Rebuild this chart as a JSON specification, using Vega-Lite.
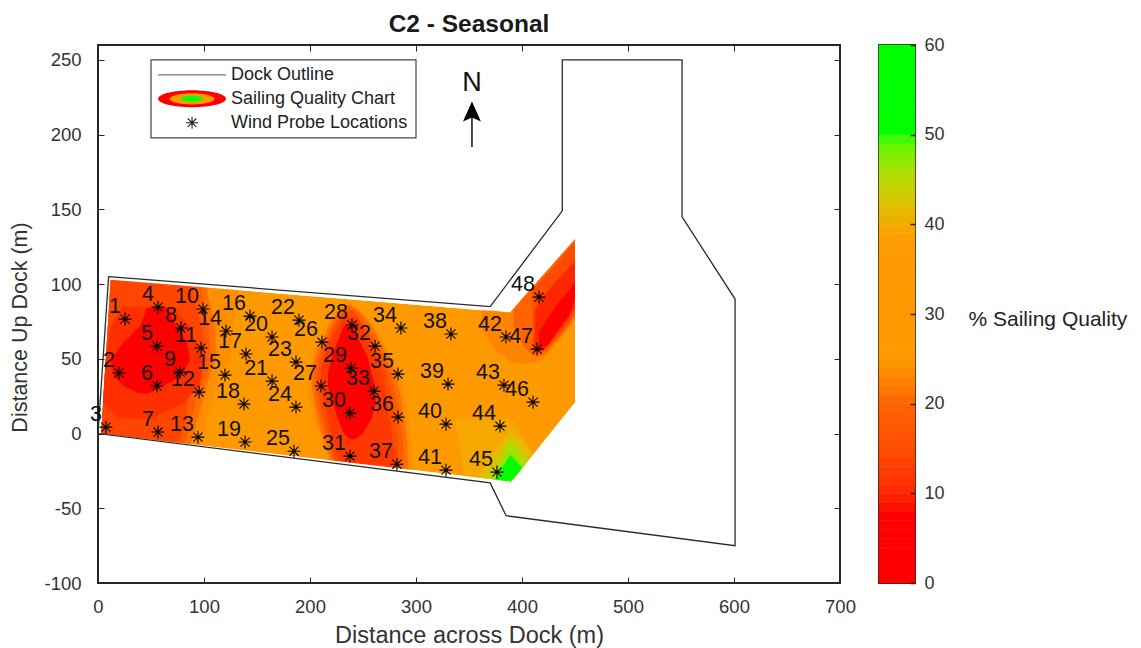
{
"$schema":"https://vega.github.io/schema/vega-lite/v6.json",
"padding":{"left":8,"top":11,"right":0,"bottom":0},
"background":"white",
"spacing":20,
"config":{"font":"Liberation Sans","view":{"stroke":"#262626","strokeWidth":2}},
"datasets":{
"base":[{"zone":"base","level":30,"x":3,"y0":-0.2,"y1":0},{"zone":"base","level":30,"x":12,"y0":-1,"y1":103},{"zone":"base","level":30,"x":389,"y0":-32,"y1":81},{"zone":"base","level":30,"x":390,"y0":-32,"y1":82},{"zone":"base","level":30,"x":450,"y0":21,"y1":130}],
"bands":[
{"zone":"L24","level":24,"y":103,"x0":12,"x1":133},{"zone":"L24","level":24,"y":94,"x0":11.2,"x1":131},{"zone":"L24","level":24,"y":72,"x0":9.3,"x1":128},{"zone":"L24","level":24,"y":49,"x0":7.3,"x1":124},{"zone":"L24","level":24,"y":41,"x0":6.6,"x1":115},{"zone":"L24","level":24,"y":27,"x0":5.4,"x1":109},{"zone":"L24","level":24,"y":4,"x0":3.3,"x1":101},{"zone":"L24","level":24,"y":-4,"x0":3,"x1":99},{"zone":"L24","level":24,"y":-9,"x0":3,"x1":97},
{"zone":"L21","level":21,"y":103,"x0":12,"x1":105},{"zone":"L21","level":21,"y":94,"x0":11.2,"x1":103},{"zone":"L21","level":21,"y":72,"x0":9.3,"x1":111},{"zone":"L21","level":21,"y":49,"x0":7.3,"x1":111},{"zone":"L21","level":21,"y":41,"x0":6.6,"x1":106},{"zone":"L21","level":21,"y":27,"x0":5.4,"x1":101},{"zone":"L21","level":21,"y":4,"x0":3.3,"x1":92},{"zone":"L21","level":21,"y":-4,"x0":3,"x1":89},{"zone":"L21","level":21,"y":-9,"x0":3,"x1":86},
{"zone":"L18","level":18,"y":103,"x0":12,"x1":100},{"zone":"L18","level":18,"y":94,"x0":11.2,"x1":98},{"zone":"L18","level":18,"y":72,"x0":9.3,"x1":104},{"zone":"L18","level":18,"y":49,"x0":7.3,"x1":107},{"zone":"L18","level":18,"y":41,"x0":6.6,"x1":103},{"zone":"L18","level":18,"y":27,"x0":5.4,"x1":94},{"zone":"L18","level":18,"y":4,"x0":3.3,"x1":87},{"zone":"L18","level":18,"y":-4,"x0":3,"x1":83},{"zone":"L18","level":18,"y":-9,"x0":3,"x1":80},
{"zone":"L14","level":14,"y":103,"x0":12,"x1":90},{"zone":"L14","level":14,"y":94,"x0":11.2,"x1":90},{"zone":"L14","level":14,"y":72,"x0":9.3,"x1":98},{"zone":"L14","level":14,"y":49,"x0":7.3,"x1":102},{"zone":"L14","level":14,"y":41,"x0":6.6,"x1":97},{"zone":"L14","level":14,"y":27,"x0":5.4,"x1":86},{"zone":"L14","level":14,"y":4,"x0":3.3,"x1":81},{"zone":"L14","level":14,"y":-4,"x0":3,"x1":77},{"zone":"L14","level":14,"y":-9,"x0":3,"x1":74},
{"zone":"L11","level":11,"y":85,"x0":24,"x1":71},{"zone":"L11","level":11,"y":72,"x0":12,"x1":86},{"zone":"L11","level":11,"y":49,"x0":7.3,"x1":99},{"zone":"L11","level":11,"y":32,"x0":5.5,"x1":96},{"zone":"L11","level":11,"y":20,"x0":4.5,"x1":80},{"zone":"L11","level":11,"y":10,"x0":20,"x1":50},
{"zone":"L6","level":6,"y":84,"x0":46,"x1":65},{"zone":"L6","level":6,"y":72,"x0":40,"x1":74},{"zone":"L6","level":6,"y":61,"x0":24,"x1":84},{"zone":"L6","level":6,"y":49,"x0":12,"x1":87},{"zone":"L6","level":6,"y":38,"x0":15,"x1":78},{"zone":"L6","level":6,"y":32,"x0":24,"x1":62},{"zone":"L6","level":6,"y":27,"x0":38,"x1":48},
{"zone":"M24","level":24,"y":88,"x0":233,"x1":238},{"zone":"M24","level":24,"y":80,"x0":222,"x1":252},{"zone":"M24","level":24,"y":70,"x0":214,"x1":263},{"zone":"M24","level":24,"y":60,"x0":207,"x1":270},{"zone":"M24","level":24,"y":50,"x0":201,"x1":279},{"zone":"M24","level":24,"y":40,"x0":198,"x1":284},{"zone":"M24","level":24,"y":30,"x0":198,"x1":288},{"zone":"M24","level":24,"y":20,"x0":200,"x1":291},{"zone":"M24","level":24,"y":10,"x0":203,"x1":293},{"zone":"M24","level":24,"y":0,"x0":208,"x1":295},{"zone":"M24","level":24,"y":-10,"x0":214,"x1":296},{"zone":"M24","level":24,"y":-26,"x0":220,"x1":297},
{"zone":"M21","level":21,"y":86,"x0":234,"x1":238},{"zone":"M21","level":21,"y":80,"x0":225,"x1":250},{"zone":"M21","level":21,"y":70,"x0":217,"x1":260},{"zone":"M21","level":21,"y":60,"x0":210,"x1":267},{"zone":"M21","level":21,"y":50,"x0":204,"x1":275},{"zone":"M21","level":21,"y":40,"x0":201,"x1":280},{"zone":"M21","level":21,"y":30,"x0":202,"x1":284},{"zone":"M21","level":21,"y":20,"x0":204,"x1":287},{"zone":"M21","level":21,"y":10,"x0":207,"x1":289},{"zone":"M21","level":21,"y":0,"x0":211,"x1":291},{"zone":"M21","level":21,"y":-10,"x0":216,"x1":292},{"zone":"M21","level":21,"y":-26,"x0":222,"x1":293},
{"zone":"M18","level":18,"y":85,"x0":234,"x1":238},{"zone":"M18","level":18,"y":80,"x0":227,"x1":247},{"zone":"M18","level":18,"y":70,"x0":220,"x1":256},{"zone":"M18","level":18,"y":60,"x0":213,"x1":263},{"zone":"M18","level":18,"y":50,"x0":207,"x1":271},{"zone":"M18","level":18,"y":40,"x0":204,"x1":276},{"zone":"M18","level":18,"y":30,"x0":205,"x1":280},{"zone":"M18","level":18,"y":20,"x0":207,"x1":283},{"zone":"M18","level":18,"y":10,"x0":210,"x1":285},{"zone":"M18","level":18,"y":0,"x0":214,"x1":287},{"zone":"M18","level":18,"y":-10,"x0":219,"x1":288},{"zone":"M18","level":18,"y":-26,"x0":225,"x1":289},
{"zone":"M15","level":15,"y":82,"x0":232,"x1":240},{"zone":"M15","level":15,"y":70,"x0":222,"x1":253},{"zone":"M15","level":15,"y":60,"x0":215,"x1":260},{"zone":"M15","level":15,"y":50,"x0":210,"x1":267},{"zone":"M15","level":15,"y":40,"x0":207,"x1":272},{"zone":"M15","level":15,"y":30,"x0":208,"x1":276},{"zone":"M15","level":15,"y":20,"x0":210,"x1":278},{"zone":"M15","level":15,"y":10,"x0":213,"x1":280},{"zone":"M15","level":15,"y":0,"x0":217,"x1":282},{"zone":"M15","level":15,"y":-10,"x0":221,"x1":283},{"zone":"M15","level":15,"y":-26,"x0":227,"x1":284},
{"zone":"M12","level":12,"y":78,"x0":232,"x1":245},{"zone":"M12","level":12,"y":70,"x0":225,"x1":250},{"zone":"M12","level":12,"y":60,"x0":218,"x1":256},{"zone":"M12","level":12,"y":50,"x0":213,"x1":263},{"zone":"M12","level":12,"y":40,"x0":210,"x1":268},{"zone":"M12","level":12,"y":30,"x0":211,"x1":271},{"zone":"M12","level":12,"y":20,"x0":214,"x1":273},{"zone":"M12","level":12,"y":10,"x0":217,"x1":275},{"zone":"M12","level":12,"y":0,"x0":220,"x1":277},{"zone":"M12","level":12,"y":-10,"x0":224,"x1":279},{"zone":"M12","level":12,"y":-26,"x0":230,"x1":280},
{"zone":"M6","level":6,"y":72,"x0":232,"x1":240},{"zone":"M6","level":6,"y":60,"x0":225,"x1":248},{"zone":"M6","level":6,"y":50,"x0":220,"x1":255},{"zone":"M6","level":6,"y":40,"x0":217,"x1":258},{"zone":"M6","level":6,"y":30,"x0":217,"x1":262},{"zone":"M6","level":6,"y":20,"x0":222,"x1":262},{"zone":"M6","level":6,"y":10,"x0":226,"x1":258},{"zone":"M6","level":6,"y":0,"x0":232,"x1":250},{"zone":"M6","level":6,"y":-4,"x0":238,"x1":242}
],
"patches":[
{"zone":"W23","level":23,"x":362,"y0":70,"y1":82.5},{"zone":"W23","level":23,"x":375,"y0":56,"y1":82},{"zone":"W23","level":23,"x":389,"y0":48,"y1":81},{"zone":"W23","level":23,"x":400,"y0":46,"y1":90},{"zone":"W23","level":23,"x":410,"y0":47,"y1":98},{"zone":"W23","level":23,"x":420,"y0":50,"y1":106},{"zone":"W23","level":23,"x":430,"y0":58,"y1":114},{"zone":"W23","level":23,"x":440,"y0":67,"y1":122},{"zone":"W23","level":23,"x":450,"y0":76,"y1":130},
{"zone":"W20","level":20,"x":392,"y0":72,"y1":83},{"zone":"W20","level":20,"x":400,"y0":60,"y1":90},{"zone":"W20","level":20,"x":410,"y0":52,"y1":98},{"zone":"W20","level":20,"x":420,"y0":52,"y1":106},{"zone":"W20","level":20,"x":430,"y0":60,"y1":114},{"zone":"W20","level":20,"x":440,"y0":68,"y1":122},{"zone":"W20","level":20,"x":450,"y0":78,"y1":130},
{"zone":"W15","level":15,"x":410,"y0":55,"y1":96},{"zone":"W15","level":15,"x":420,"y0":55,"y1":104},{"zone":"W15","level":15,"x":430,"y0":62,"y1":112},{"zone":"W15","level":15,"x":440,"y0":70,"y1":120},{"zone":"W15","level":15,"x":450,"y0":80,"y1":128},
{"zone":"W10","level":10,"x":412,"y0":55,"y1":82},{"zone":"W10","level":10,"x":420,"y0":55,"y1":92},{"zone":"W10","level":10,"x":430,"y0":64,"y1":100},{"zone":"W10","level":10,"x":440,"y0":73,"y1":108},{"zone":"W10","level":10,"x":450,"y0":84,"y1":115},
{"zone":"W5","level":5,"x":416,"y0":55,"y1":68},{"zone":"W5","level":5,"x":425,"y0":60,"y1":78},{"zone":"W5","level":5,"x":435,"y0":70,"y1":88},{"zone":"W5","level":5,"x":445,"y0":80,"y1":96},{"zone":"W5","level":5,"x":450,"y0":90,"y1":102},
{"zone":"G39","level":39.5,"x":337,"y0":10,"y1":10},{"zone":"G39","level":39.5,"x":345,"y0":-28.3,"y1":10},{"zone":"G39","level":39.5,"x":390,"y0":-32,"y1":10},{"zone":"G39","level":39.5,"x":400,"y0":-23,"y1":-1},{"zone":"G39","level":39.5,"x":409,"y0":-15.2,"y1":-11},
{"zone":"G42","level":42,"x":358,"y0":-29.4,"y1":-29},{"zone":"G42","level":42,"x":372,"y0":-30.5,"y1":-15},{"zone":"G42","level":42,"x":389,"y0":-32,"y1":2},{"zone":"G42","level":42,"x":398,"y0":-25,"y1":-3},{"zone":"G42","level":42,"x":408,"y0":-16,"y1":-12},
{"zone":"G46","level":46,"x":368,"y0":-30.2,"y1":-30},{"zone":"G46","level":46,"x":378,"y0":-31,"y1":-18},{"zone":"G46","level":46,"x":389,"y0":-32,"y1":-5},{"zone":"G46","level":46,"x":396,"y0":-26.8,"y1":-10},{"zone":"G46","level":46,"x":404,"y0":-19.8,"y1":-18},
{"zone":"G52","level":52,"x":375,"y0":-30.8,"y1":-30},{"zone":"G52","level":52,"x":382,"y0":-31.4,"y1":-22},{"zone":"G52","level":52,"x":389,"y0":-32,"y1":-14},{"zone":"G52","level":52,"x":394,"y0":-28.5,"y1":-18},{"zone":"G52","level":52,"x":400,"y0":-23,"y1":-22.5}
],
"masks":[
{"zone":"top","x":12,"y0":103,"y1":115},{"zone":"top","x":389,"y0":81,"y1":93},
{"zone":"bottom","x":2.5,"y0":-14.2,"y1":-0.2},{"zone":"bottom","x":390,"y0":-46,"y1":-32}
],
"outline":[{"o":1,"x":10,"y":105},{"o":2,"x":370,"y":85},{"o":3,"x":438,"y":149},{"o":4,"x":438,"y":250},{"o":5,"x":551,"y":250},{"o":6,"x":551,"y":145},{"o":7,"x":601,"y":90},{"o":8,"x":601,"y":-75},{"o":9,"x":385,"y":-55},{"o":10,"x":370,"y":-33},{"o":11,"x":0,"y":0},{"o":12,"x":10,"y":105}],
"probes":[
{"id":"1","x":25.5,"y":76.6},{"id":"2","x":19.8,"y":40.5},{"id":"3","x":7.5,"y":4.3},{"id":"4","x":56.6,"y":84.6},{"id":"5","x":55.7,"y":58.5},{"id":"6","x":55.7,"y":31.8},{"id":"7","x":56.6,"y":1},{"id":"8","x":78.3,"y":70.6},{"id":"9","x":77.4,"y":41.1},{"id":"10","x":99,"y":83.3},{"id":"11","x":97.2,"y":57.2},{"id":"12","x":95.3,"y":27.7},{"id":"13","x":94.3,"y":-2.4},{"id":"14","x":120.8,"y":68.6},{"id":"15","x":119.8,"y":39.1},{"id":"16","x":143.4,"y":78.6},{"id":"17","x":139.6,"y":53.2},{"id":"18","x":137.7,"y":19.7},{"id":"19","x":138.7,"y":-5.7},{"id":"20","x":164.2,"y":64.6},{"id":"21","x":164.2,"y":35.1},{"id":"22","x":189.6,"y":75.9},{"id":"23","x":186.8,"y":47.8},{"id":"24","x":186.8,"y":17.7},{"id":"25","x":184.9,"y":-11.8},{"id":"26","x":211.3,"y":61.2},{"id":"27","x":210.4,"y":31.8},{"id":"28","x":239.6,"y":72.6},{"id":"29","x":238.7,"y":43.8},{"id":"30","x":237.7,"y":13.7},{"id":"31","x":237.7,"y":-15.1},{"id":"32","x":261.3,"y":58.5},{"id":"33","x":260.4,"y":28.4},{"id":"34","x":285.8,"y":70.6},{"id":"35","x":283,"y":39.8},{"id":"36","x":283,"y":11},{"id":"37","x":282,"y":-20.5},{"id":"38","x":333,"y":66.6},{"id":"39","x":330.2,"y":33.1},{"id":"40","x":328.3,"y":6.3},{"id":"41","x":328.3,"y":-24.5},{"id":"42","x":384.9,"y":64.6},{"id":"43","x":383,"y":32.4},{"id":"44","x":379.2,"y":5},{"id":"45","x":376.4,"y":-25.8},{"id":"46","x":410.4,"y":21},{"id":"47","x":414.2,"y":56.5},{"id":"48","x":416,"y":91.3}
],
"legendBox":[{"x":50,"x2":300,"y":197.8,"y2":250}],
"legendLine":[{"x":56.6,"y":240},{"x":120.8,"y":240}],
"legendText":[{"x":125.5,"y":240,"t":"Dock Outline"},{"x":125.5,"y":224,"t":"Sailing Quality Chart"},{"x":125.5,"y":208,"t":"Wind Probe Locations"}],
"legendOval":[{"x":88.7,"y":224}],
"legendStar":[{"x":88.7,"y":208}],
"north":[{"x":352.8,"y":234.6,"t":"N"}],
"arrowShaft":[{"x":352.8,"y":191.7},{"x":352.8,"y":215}],
"arrowHead":[{"x":352.8,"y":215.5}],
"bar":[{"lo":0,"hi":1,"v":0.5},{"lo":1,"hi":2,"v":1.5},{"lo":2,"hi":3,"v":2.5},{"lo":3,"hi":4,"v":3.5},{"lo":4,"hi":5,"v":4.5},{"lo":5,"hi":6,"v":5.5},{"lo":6,"hi":7,"v":6.5},{"lo":7,"hi":8,"v":7.5},{"lo":8,"hi":9,"v":8.5},{"lo":9,"hi":10,"v":9.5},{"lo":10,"hi":11,"v":10.5},{"lo":11,"hi":12,"v":11.5},{"lo":12,"hi":13,"v":12.5},{"lo":13,"hi":14,"v":13.5},{"lo":14,"hi":15,"v":14.5},{"lo":15,"hi":16,"v":15.5},{"lo":16,"hi":17,"v":16.5},{"lo":17,"hi":18,"v":17.5},{"lo":18,"hi":19,"v":18.5},{"lo":19,"hi":20,"v":19.5},{"lo":20,"hi":21,"v":20.5},{"lo":21,"hi":22,"v":21.5},{"lo":22,"hi":23,"v":22.5},{"lo":23,"hi":24,"v":23.5},{"lo":24,"hi":25,"v":24.5},{"lo":25,"hi":26,"v":25.5},{"lo":26,"hi":27,"v":26.5},{"lo":27,"hi":28,"v":27.5},{"lo":28,"hi":29,"v":28.5},{"lo":29,"hi":30,"v":29.5},{"lo":30,"hi":31,"v":30.5},{"lo":31,"hi":32,"v":31.5},{"lo":32,"hi":33,"v":32.5},{"lo":33,"hi":34,"v":33.5},{"lo":34,"hi":35,"v":34.5},{"lo":35,"hi":36,"v":35.5},{"lo":36,"hi":37,"v":36.5},{"lo":37,"hi":38,"v":37.5},{"lo":38,"hi":39,"v":38.5},{"lo":39,"hi":40,"v":39.5},{"lo":40,"hi":41,"v":40.5},{"lo":41,"hi":42,"v":41.5},{"lo":42,"hi":43,"v":42.5},{"lo":43,"hi":44,"v":43.5},{"lo":44,"hi":45,"v":44.5},{"lo":45,"hi":46,"v":45.5},{"lo":46,"hi":47,"v":46.5},{"lo":47,"hi":48,"v":47.5},{"lo":48,"hi":49,"v":48.5},{"lo":49,"hi":50,"v":49.5},{"lo":50,"hi":51,"v":50.5},{"lo":51,"hi":52,"v":51.5},{"lo":52,"hi":53,"v":52.5},{"lo":53,"hi":54,"v":53.5},{"lo":54,"hi":55,"v":54.5},{"lo":55,"hi":56,"v":55.5},{"lo":56,"hi":57,"v":56.5},{"lo":57,"hi":58,"v":57.5},{"lo":58,"hi":59,"v":58.5},{"lo":59,"hi":60,"v":59.5}]
},
"hconcat":[
{
"width":742,"height":538,
"title":{"text":"C2 - Seasonal","fontSize":24.5,"fontWeight":"bold","color":"#1a1a1a","offset":7,"font":"Liberation Sans"},
"resolve":{"axis":{"x":"independent","y":"independent"}},
"layer":[
{"data":{"name":"base"},"mark":{"type":"area"},
"encoding":{
"x":{"field":"x","type":"quantitative","scale":{"domain":[0,700],"nice":false},"axis":{"values":[0,100,200,300,400,500,600,700],"grid":false,"domain":false,"tickSize":-6,"tickColor":"#262626","labelPadding":20,"labelFontSize":18.5,"labelColor":"#333333","title":"Distance across Dock (m)","titleFontSize":23.5,"titleFontWeight":"normal","titleColor":"#333333","titlePadding":8,"zindex":1,"labelFlush":false}},
"y":{"field":"y0","type":"quantitative","scale":{"domain":[-100,260],"nice":false},"axis":{"values":[-100,-50,0,50,100,150,200,250],"labelExpr":"'' + datum.value","grid":false,"domain":false,"tickSize":-6,"tickColor":"#262626","labelPadding":23,"labelFontSize":18.5,"labelColor":"#333333","title":"Distance Up Dock (m)","titleFontSize":21.5,"titleFontWeight":"normal","titleColor":"#333333","titleY":282,"titleX":-67,"zindex":1,"labelFlush":false}},
"y2":{"field":"y1"},
"color":{"field":"level","type":"quantitative","legend":null,"scale":{"domain":[0,8,20,25,38,50,60],"range":["#ff0000","#ff0000","#ff6400","#ff9900","#ff9900","#00ff00","#00ff00"]}},
"detail":{"field":"zone"}}},
{"data":{"name":"bands"},"mark":{"type":"area","orient":"horizontal"},
"encoding":{
"y":{"field":"y","type":"quantitative","axis":null},
"x":{"field":"x0","type":"quantitative","axis":null},
"x2":{"field":"x1"},
"color":{"field":"level","type":"quantitative","legend":null},
"detail":{"field":"zone"}}},
{"data":{"name":"masks"},"mark":{"type":"area","color":"white"},
"encoding":{"x":{"field":"x","type":"quantitative","axis":null},"y":{"field":"y0","type":"quantitative","axis":null},"y2":{"field":"y1"},"detail":{"field":"zone"}}},
{"data":{"name":"patches"},"mark":{"type":"area"},
"encoding":{"x":{"field":"x","type":"quantitative","axis":null},"y":{"field":"y0","type":"quantitative","axis":null},"y2":{"field":"y1"},"color":{"field":"level","type":"quantitative","legend":null},"detail":{"field":"zone"}}},
{"data":{"name":"outline"},"mark":{"type":"line","color":"#2a2a2a","strokeWidth":1.3},
"encoding":{
"x":{"field":"x","type":"quantitative","axis":{"orient":"top","values":[0,100,200,300,400,500,600,700],"labels":false,"title":null,"grid":false,"domain":false,"tickSize":-6,"tickColor":"#262626"}},
"y":{"field":"y","type":"quantitative","axis":{"orient":"right","values":[-100,-50,0,50,100,150,200,250],"labels":false,"title":null,"grid":false,"domain":false,"tickSize":-6,"tickColor":"#262626"}},
"order":{"field":"o","type":"ordinal"}}},
{"data":{"name":"probes"},"mark":{"type":"point","shape":"M-1,0L1,0M0,-1L0,1M-.7,-.7L.7,.7M-.7,.7L.7,-.7","size":169,"stroke":"#000000","strokeWidth":1.1,"filled":false,"opacity":1},
"encoding":{"x":{"field":"x","type":"quantitative","axis":null},"y":{"field":"y","type":"quantitative","axis":null}}},
{"data":{"name":"probes"},"mark":{"type":"text","align":"right","baseline":"middle","dx":-4,"dy":-12,"fontSize":21.5,"color":"#111111"},
"encoding":{"x":{"field":"x","type":"quantitative","axis":null},"y":{"field":"y","type":"quantitative","axis":null},"text":{"field":"id"}}},
{"data":{"name":"legendBox"},"mark":{"type":"rect","fill":"white","stroke":"#444444","strokeWidth":1.2},
"encoding":{"x":{"field":"x","type":"quantitative","axis":null},"x2":{"field":"x2"},"y":{"field":"y","type":"quantitative","axis":null},"y2":{"field":"y2"}}},
{"data":{"name":"legendLine"},"mark":{"type":"line","color":"#555555","strokeWidth":1},
"encoding":{"x":{"field":"x","type":"quantitative","axis":null},"y":{"field":"y","type":"quantitative","axis":null}}},
{"data":{"name":"legendOval"},"mark":{"type":"point","shape":"M-1,0A1,.25 0 1,1 1,0A1,.25 0 1,1 -1,0Z","size":4624,"filled":true,"fill":"#ff0000","opacity":1},
"encoding":{"x":{"field":"x","type":"quantitative","axis":null},"y":{"field":"y","type":"quantitative","axis":null}}},
{"data":{"name":"legendOval"},"mark":{"type":"point","shape":"M-1,0A1,.25 0 1,1 1,0A1,.25 0 1,1 -1,0Z","size":2000,"filled":true,"fill":"#ff9900","opacity":1},
"encoding":{"x":{"field":"x","type":"quantitative","axis":null},"y":{"field":"y","type":"quantitative","axis":null}}},
{"data":{"name":"legendOval"},"mark":{"type":"point","shape":"M-1,0A1,.25 0 1,1 1,0A1,.25 0 1,1 -1,0Z","size":520,"filled":true,"fill":"#00ff00","opacity":1},
"encoding":{"x":{"field":"x","type":"quantitative","axis":null},"y":{"field":"y","type":"quantitative","axis":null}}},
{"data":{"name":"legendStar"},"mark":{"type":"point","shape":"M-1,0L1,0M0,-1L0,1M-.7,-.7L.7,.7M-.7,.7L.7,-.7","size":144,"stroke":"#222222","strokeWidth":1.1,"filled":false,"opacity":1},
"encoding":{"x":{"field":"x","type":"quantitative","axis":null},"y":{"field":"y","type":"quantitative","axis":null}}},
{"data":{"name":"legendText"},"mark":{"type":"text","align":"left","baseline":"middle","fontSize":18,"color":"#222222"},
"encoding":{"x":{"field":"x","type":"quantitative","axis":null},"y":{"field":"y","type":"quantitative","axis":null},"text":{"field":"t"}}},
{"data":{"name":"north"},"mark":{"type":"text","align":"center","baseline":"middle","fontSize":27,"color":"#111111"},
"encoding":{"x":{"field":"x","type":"quantitative","axis":null},"y":{"field":"y","type":"quantitative","axis":null},"text":{"field":"t"}}},
{"data":{"name":"arrowShaft"},"mark":{"type":"line","color":"#111111","strokeWidth":1.5},
"encoding":{"x":{"field":"x","type":"quantitative","axis":null},"y":{"field":"y","type":"quantitative","axis":null}}},
{"data":{"name":"arrowHead"},"mark":{"type":"point","shape":"M0,-1L.9,1L0,.6L-.9,1Z","size":400,"filled":true,"fill":"#000000","opacity":1},
"encoding":{"x":{"field":"x","type":"quantitative","axis":null},"y":{"field":"y","type":"quantitative","axis":null}}}
]
},
{
"width":36,"height":538,
"data":{"name":"bar"},
"mark":{"type":"rect","strokeWidth":0.6},
"encoding":{
"y":{"field":"lo","type":"quantitative","scale":{"domain":[0,60],"nice":false},"axis":{"orient":"right","values":[0,10,20,30,40,50,60],"grid":false,"domain":false,"tickSize":-5,"tickColor":"#262626","tickWidth":1.5,"labelPadding":14,"labelFontSize":18,"labelColor":"#333333","labelFlush":false,"title":"% Sailing Quality","titleAngle":0,"titleFontSize":21,"titleFontWeight":"normal","titleColor":"#222222","titleAlign":"left","titleBaseline":"middle","titleX":53,"titleY":274,"zindex":1}},
"y2":{"field":"hi"},
"color":{"field":"v","type":"quantitative","legend":null,"scale":{"domain":[0,8,20,25,38,50,60],"range":["#ff0000","#ff0000","#ff6400","#ff9900","#ff9900","#00ff00","#00ff00"]}},
"stroke":{"field":"v","type":"quantitative","legend":null,"scale":{"domain":[0,8,20,25,38,50,60],"range":["#ff0000","#ff0000","#ff6400","#ff9900","#ff9900","#00ff00","#00ff00"]}}
}
}
]
}
